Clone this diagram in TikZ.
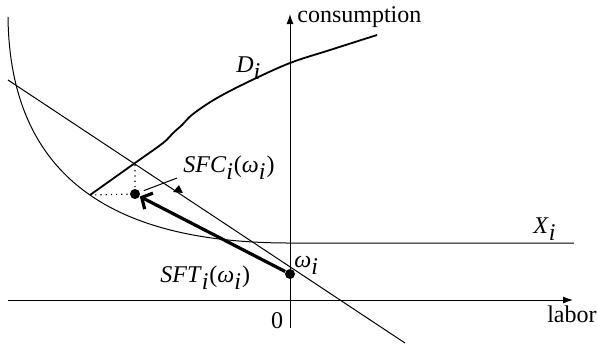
\documentclass[tikz,border=0pt]{standalone}
\usepackage{fontspec}
\setmainfont{Liberation Serif}
\usetikzlibrary{arrows.meta, positioning}
\newcommand{\vr}[2]{\textit{#1}$_{\textit{#2}}$}

\begin{document}
\begin{tikzpicture}[
    x=0.5pt, y=-0.5pt,
    font=\fontsize{12}{14}\selectfont,
    thinline/.style={line width=0.5pt},
    axis/.style={line width=0.5pt, -{Latex[length=5pt,width=3.5pt]}},
    dot/.style={circle, fill, inner sep=0pt, minimum size=5pt},
    guide/.style={dotted, line width=0.6pt},
    >=Latex
]
\useasboundingbox (0,0) rectangle (597,344);

% axes
\coordinate (xstart) at (8,300);
\coordinate (xend) at (573,300);
\coordinate (ystart) at (290,328);
\coordinate (yend) at (290,14);
\draw[axis] (xstart) -- (xend);
\draw[axis] (ystart) -- (yend);
\node[anchor=base west, inner sep=1pt] (cons) at (295,22) {consumption};
\node[anchor=base east, inner sep=0pt] (labor) at (597,322) {labor};
\node[anchor=base, inner sep=0pt] (zero) at (277,328) {0};

% consumption set X_i
\coordinate (kink) at (90,195);
\draw[thinline] (8,17) .. controls (10,190) and (130,243) .. (290,243) -- (574,243);
\node[anchor=base west, inner sep=0pt] (xlab) at (533,233) {\vr{X}{i}};

% budget line
\coordinate (bstart) at (8,80);
\coordinate (bend) at (405,343);
\draw[thinline] (bstart) -- (bend);
\fill (173,192) -- (183,193) -- (179,185) -- cycle;

% D_i
\draw[line width=0.9pt] plot[smooth, tension=0.6] coordinates {(90,195) (135,163) (163,143) (173,133) (182,125) (193,114) (217,98) (250,81) (290,63) (330,50) (377,35)};
\node[anchor=base west, inner sep=0pt] (dlab) at (236,72) {\vr{D}{i}};

% points
\node[dot] (w) at (290,274) {};
\node[dot] (sfc) at (135,194) {};
\coordinate (top) at (135,163);
\draw[guide] (kink) -- (sfc.center) -- (top);
\draw[line width=1.6pt, -{Straight Barb[length=4pt,width=9pt]}] (w) -- (sfc);

% labels
\node[anchor=base west, inner sep=0pt] (sfclab) at (183,172) {\textit{SFC}$_{\textit{i}}$(\vr{ω}{i})};
\draw[thinline, shorten >=2pt] ([xshift=-3pt, yshift=1pt]sfclab.south west) -- (sfc);
\node[anchor=base west, inner sep=0pt] (sftlab) at (160,282) {\textit{SFT}$_{\textit{i}}$(\vr{ω}{i})};
\node[anchor=base west, inner sep=0pt] (wlab) at (294,267) {\vr{ω}{i}};
\end{tikzpicture}
\end{document}
